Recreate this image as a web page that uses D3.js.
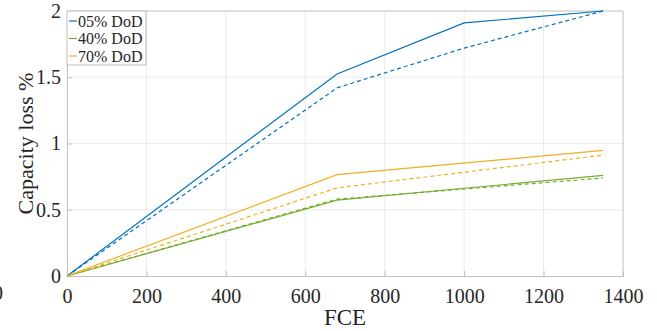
<!DOCTYPE html>
<html>
<head>
<meta charset="utf-8">
<script src="https://cdn.jsdelivr.net/npm/d3@7"></script>
<style>
  body { margin: 0; background: #fff; }
  svg { display: block; }
  svg text { font-family: "Times New Roman", "Liberation Serif", Tinos, serif; }
</style>
</head>
<body>
<div id="wrapper"></div>
<script>
// data
const fce = [0, 680, 1000, 1350]
const fceShort = [0, 680, 1350]
const dod05Solid = [0, 1.525, 1.91, 2.0]
const dod05Dashed = [0, 1.42, 1.72, 2.0]
const dod40Solid = [0, 0.572, 0.76]
const dod40Dashed = [0, 0.58, 0.74]
const dod70Solid = [0, 0.765, 0.948]
const dod70Dashed = [0, 0.665, 0.913]
const xTicks = [0, 200, 400, 600, 800, 1000, 1200, 1400]
const yTicks = [0, 0.5, 1, 1.5, 2]
const legendLabels = ["05% DoD", "40% DoD", "70% DoD"]

const colors = ["#0072BD", "#77AC30", "#EDB120"]

const series = [
  { x: fce, y: dod05Solid, color: colors[0], dash: null },
  { x: fce, y: dod05Dashed, color: colors[0], dash: "4 3" },
  { x: fceShort, y: dod40Solid, color: colors[1], dash: null },
  { x: fceShort, y: dod40Dashed, color: colors[1], dash: "4 3" },
  { x: fceShort, y: dod70Solid, color: colors[2], dash: null },
  { x: fceShort, y: dod70Dashed, color: colors[2], dash: "4 3" }
]

// Mitoitus
const dimensions = {
  width: 657,
  height: 331,
  margin: { top: 11, right: 34, bottom: 55, left: 67 }
}
dimensions.boundedWidth = dimensions.width - dimensions.margin.left - dimensions.margin.right
dimensions.boundedHeight = dimensions.height - dimensions.margin.top - dimensions.margin.bottom

const wrapper = d3.select("#wrapper")
  .append("svg")
  .attr("width", dimensions.width)
  .attr("height", dimensions.height)

const bounds = wrapper.append("g")
  .attr("transform", `translate(${dimensions.margin.left},${dimensions.margin.top})`)

// Skaalaimet
const xScale = d3.scaleLinear()
  .domain([0, 1400])
  .range([0, dimensions.boundedWidth])

const yScale = d3.scaleLinear()
  .domain([0, 2])
  .range([dimensions.boundedHeight, 0])

// gridlines
bounds.append("g")
  .selectAll("line")
  .data(xTicks.slice(1, -1))
  .join("line")
  .attr("x1", d => xScale(d)).attr("x2", d => xScale(d))
  .attr("y1", 0).attr("y2", dimensions.boundedHeight)
  .attr("stroke", "#ebebeb").attr("stroke-width", 1)

bounds.append("g")
  .selectAll("line")
  .data(yTicks.slice(1, -1))
  .join("line")
  .attr("x1", 0).attr("x2", dimensions.boundedWidth)
  .attr("y1", d => yScale(d)).attr("y2", d => yScale(d))
  .attr("stroke", "#ebebeb").attr("stroke-width", 1)

// Akselit
const xAxis = bounds.append("g")
  .attr("transform", `translate(0,${dimensions.boundedHeight})`)
  .call(d3.axisBottom(xScale).tickValues(xTicks).tickSize(-5).tickPadding(13).tickFormat(d3.format("d")))
const yAxis = bounds.append("g")
  .call(d3.axisLeft(yScale).tickValues(yTicks).tickSize(-5).tickPadding(6).tickFormat(d3.format("")))

;[xAxis, yAxis].forEach(ax => {
  ax.attr("font-family", null)
  ax.select(".domain").attr("stroke", "#c0c0c0")
  ax.selectAll(".tick line").attr("stroke", "#c0c0c0")
  ax.selectAll(".tick text")
    .attr("fill", "#262626")
    .attr("font-size", "20px")
})

// top and right border
bounds.append("line")
  .attr("x1", 0).attr("x2", dimensions.boundedWidth)
  .attr("y1", 0).attr("y2", 0)
  .attr("stroke", "#c0c0c0")
bounds.append("line")
  .attr("x1", dimensions.boundedWidth).attr("x2", dimensions.boundedWidth)
  .attr("y1", 0).attr("y2", dimensions.boundedHeight)
  .attr("stroke", "#c0c0c0")

// Datan piirto
const lineGenerator = d3.line()
  .x(d => xScale(d[0]))
  .y(d => yScale(d[1]))

series.forEach(s => {
  const pts = s.x.map((v, i) => [v, s.y[i]])
  bounds.append("path")
    .attr("d", lineGenerator(pts))
    .attr("fill", "none")
    .attr("stroke", s.color)
    .attr("stroke-width", 1.2)
    .attr("stroke-dasharray", s.dash)
})

// axis titles
wrapper.append("text")
  .attr("x", dimensions.margin.left + xScale(700))
  .attr("y", 325)
  .attr("text-anchor", "middle")
  .attr("font-size", "23px")
  .attr("fill", "#262626")
  .text("FCE")

wrapper.append("text")
  .attr("transform", `translate(33,${dimensions.margin.top + yScale(1)}) rotate(-90)`)
  .attr("text-anchor", "middle")
  .attr("font-size", "22px")
  .attr("fill", "#262626")
  .text("Capacity loss %")

// stray label cut at left edge
wrapper.append("text")
  .attr("x", -2)
  .attr("y", 300)
  .attr("text-anchor", "middle")
  .attr("font-size", "20px")
  .attr("fill", "#262626")
  .text("0")

// legend
const legend = bounds.append("g")
legend.append("rect")
  .attr("x", 0).attr("y", 0)
  .attr("width", 79).attr("height", 54)
  .attr("fill", "#fff")
  .attr("stroke", "#c0c0c0")

legendLabels.forEach((label, i) => {
  const cy = 10 + i * 17.5
  legend.append("line")
    .attr("x1", 2).attr("x2", 10)
    .attr("y1", cy).attr("y2", cy)
    .attr("stroke", colors[i])
    .attr("stroke-width", 1.2)
  legend.append("text")
    .attr("x", 11)
    .attr("y", cy + 5.5)
    .attr("font-size", "16px")
    .attr("fill", "#262626")
    .text(label)
})
</script>
</body>
</html>
